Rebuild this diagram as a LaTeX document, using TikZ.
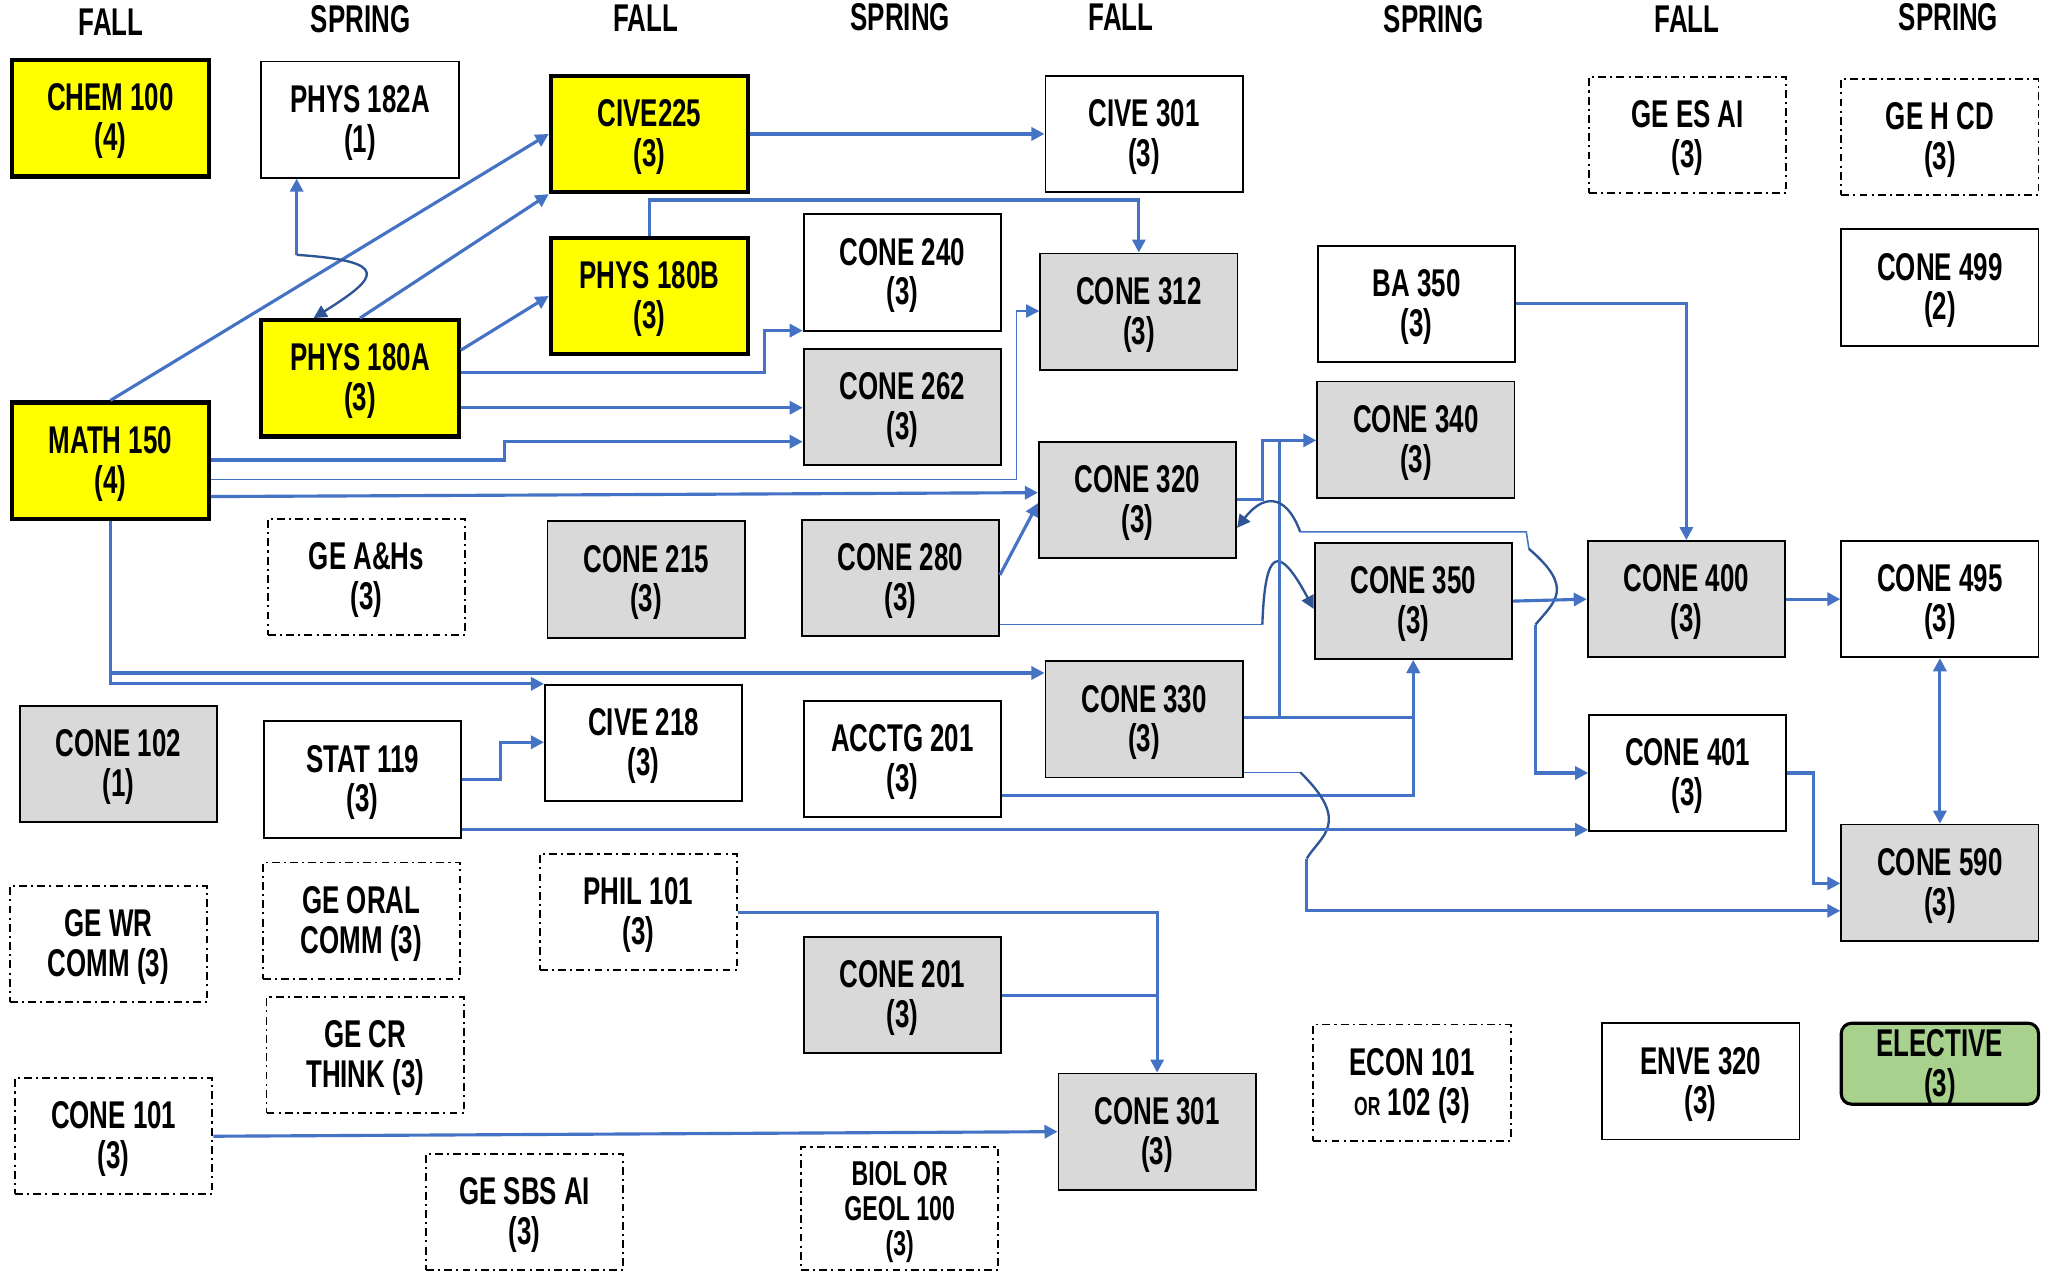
\documentclass[tikz,border=0pt]{standalone}
\usepackage{fontspec}
\setmainfont{Liberation Sans}[FakeStretch=0.67]
\usetikzlibrary{arrows.meta}
\definecolor{cyellow}{HTML}{FFFF00}
\definecolor{cgray}{HTML}{D9D9D9}
\definecolor{cgreen}{HTML}{A9D18E}
\definecolor{cblue}{HTML}{4472C4}
\definecolor{cdark}{HTML}{2F5597}
\newcommand{\crsfont}{\fontsize{14.8}{15}\selectfont\bfseries}
\newcommand{\cl}[1]{\raisebox{-1.8pt}[\height][\depth]{\begin{tabular}{@{}c@{}}#1\end{tabular}}}
\tikzset{
  crs/.style={draw=black, line width=0.7pt, minimum width=75.5pt, minimum height=44.5pt, inner sep=0pt, font=\crsfont},
  yel/.style={crs, fill=cyellow, line width=1.6pt},
  gry/.style={crs, fill=cgray},
  wht/.style={crs, fill=white},
  gebox/.style={crs, dash pattern=on 3pt off 1.6pt on 0.8pt off 1.6pt},
  elec/.style={crs, fill=cgreen, line width=1.2pt, rounded corners=4pt, minimum height=31pt},
  hdr/.style={font=\crsfont, inner sep=0pt},
  tip/.style={-{Triangle[length=5pt,width=5pt]}},
  conn/.style={draw=cblue, line width=1.2pt, tip},
  connthin/.style={draw=cblue, line width=0.6pt},
  conndark/.style={draw=cdark, line width=0.9pt},
  plain/.style={draw=cblue, line width=1.2pt},
}
\begin{document}
\begin{tikzpicture}[x=0.5pt,y=-0.5pt]
\fill[white] (0,0) rectangle (1568,974);
\useasboundingbox (0,0) rectangle (1568,974);
% headers
\node[hdr] (h1) at (85,17) {FALL};
\node[hdr] (h2) at (276,15) {SPRING};
\node[hdr] (h3) at (494,14) {FALL};
\node[hdr] (h4) at (689,13) {SPRING};
\node[hdr] (h5) at (858,13) {FALL};
\node[hdr] (h6) at (1097,15) {SPRING};
\node[hdr] (h7) at (1291,15) {FALL};
\node[hdr] (h8) at (1491,13) {SPRING};
% courses
\node[yel] (chem) at (84.5,90.5) {\cl{CHEM 100\\(4)}};
\node[wht] (phys182a) at (275.5,91.5) {\cl{PHYS 182A\\(1)}};
\node[yel] (cive225) at (497,102.5) {\cl{CIVE225\\(3)}};
\node[wht] (cive301) at (875.5,102.5) {\cl{CIVE 301\\(3)}};
\node[gebox] (gees) at (1291.5,103.5) {\cl{GE ES AI\\(3)}};
\node[gebox] (gehcd) at (1484.5,105) {\cl{GE H CD\\(3)}};
\node[yel] (phys180b) at (497,226.5) {\cl{PHYS 180B\\(3)}};
\node[wht] (cone240) at (690.5,208.5) {\cl{CONE 240\\(3)}};
\node[gry] (cone312) at (871.5,238.5) {\cl{CONE 312\\(3)}};
\node[wht] (ba350) at (1084,232.5) {\cl{BA 350\\(3)}};
\node[wht] (cone499) at (1484.5,220) {\cl{CONE 499\\(2)}};
\node[yel] (phys180a) at (275.5,289.5) {\cl{PHYS 180A\\(3)}};
\node[gry] (cone262) at (690.5,311.5) {\cl{CONE 262\\(3)}};
\node[gry] (cone340) at (1083.5,336.5) {\cl{CONE 340\\(3)}};
\node[yel] (math150) at (84.5,352.5) {\cl{MATH 150\\(4)}};
\node[gry] (cone320) at (870.5,382.5) {\cl{CONE 320\\(3)}};
\node[gebox] (geahs) at (280.5,441.5) {\cl{GE A\&Hs\\(3)}};
\node[gry] (cone215) at (494.5,443.5) {\cl{CONE 215\\(3)}};
\node[gry] (cone280) at (689,442.5) {\cl{CONE 280\\(3)}};
\node[gry] (cone350) at (1081.5,460) {\cl{CONE 350\\(3)}};
\node[gry] (cone400) at (1290.5,458.5) {\cl{CONE 400\\(3)}};
\node[wht] (cone495) at (1484.5,458.5) {\cl{CONE 495\\(3)}};
\node[gry] (cone330) at (875.5,550.5) {\cl{CONE 330\\(3)}};
\node[gry] (cone102) at (90.5,584.5) {\cl{CONE 102\\(1)}};
\node[wht] (stat119) at (277.5,596.5) {\cl{STAT 119\\(3)}};
\node[wht] (cive218) at (492.5,568.5) {\cl{CIVE 218\\(3)}};
\node[wht] (acctg201) at (690.5,581) {\cl{ACCTG 201\\(3)}};
\node[wht] (cone401) at (1291.5,591.5) {\cl{CONE 401\\(3)}};
\node[gry] (cone590) at (1484.5,675.5) {\cl{CONE 590\\(3)}};
\node[gebox] (gewr) at (83,722.5) {\cl{GE WR\\COMM (3)}};
\node[gebox] (georal) at (276.5,704.5) {\cl{GE ORAL\\COMM (3)}};
\node[gebox] (phil101) at (488.5,698) {\cl{PHIL 101\\(3)}};
\node[gry] (cone201) at (690.5,761.5) {\cl{CONE 201\\(3)}};
\node[gebox] (gecr) at (279.5,807.5) {\cl{GE CR\\THINK (3)}};
\node[gebox] (econ) at (1080.5,828.5) {\cl{ECON 101\\{\fontsize{10}{10}\selectfont OR} 102 (3)}};
\node[wht] (enve320) at (1301.5,827.5) {\cl{ENVE 320\\(3)}};
\node[elec] (elective) at (1484.5,814) {\cl{ELECTIVE\\(3)}};
\node[gry] (cone301) at (885.5,866) {\cl{CONE 301\\(3)}};
\node[gebox] (cone101) at (87,869.5) {\cl{CONE 101\\(3)}};
\node[gebox] (gesbs) at (401.5,927.5) {\cl{GE SBS AI\\(3)}};
\node[gebox, minimum height=47pt, font=\fontsize{13.2}{13.5}\selectfont\bfseries] (biol) at (688.5,925) {\cl{BIOL OR\\GEOL 100\\(3)}};
% connectors
\draw[conn] (cive225) -- (cive301);
\draw[conn] (phys180b.north) -- (phys180b.north |- 0,153) -| (cone312.north);
\draw[conn] (math150.north) -- (cive225.west);
\draw[conn] (phys180a.north) -- (cive225.south west);
\draw[conn] (phys180a.east |- 0,268) -- (phys180b.west);
\coordinate (k) at (227,195);
\draw[conn] (k) -- (phys182a.south -| k);
\draw[conndark, tip] (k) .. controls (300,200) and (290,212) .. (phys180a.north -| 240,0);
\draw[conn] (phys180a.east |- 0,285) -| (585,253) -- (cone240.west |- 0,253);
\draw[conn] (phys180a.east |- 0,312) -- (cone262.west |- 0,312);
\draw[conn] (math150.east |- 0,352) -| (386,338) -- (cone262.west |- 0,338);
\draw[connthin, tip] (math150.east |- 0,367) -| (778,238) -- (cone312.west |- 0,238);
\draw[conn] (math150.east |- 0,380) -- (cone320.west |- 0,377);
\draw[conn] (math150.south) |- (cive218.north west);
\draw[conn] (math150.south |- 0,515) -- (cone330.west |- 0,515);
\draw[conn] (cone280.east |- 0,440) -- (cone320.west |- 0,385);
\coordinate (h14) at (966,478);
\draw[connthin] (cone280.east |- 0,478) -- (h14);
\draw[conndark, tip] (h14) .. controls (968,420) and (978,415) .. (cone350.west |- 0,466);
\draw[conn] (cone320.east |- 0,382) -| (966,337) -- (cone340.west |- 0,337);
\draw[plain] (cone330.east |- 0,549) -| (979,337);
\draw[conn] (cone330.east |- 0,549) -| (cone350.south);
\draw[conn] (acctg201.east |- 0,609) -| (cone350.south);
\coordinate (h17a) at (995,591);
\coordinate (h17b) at (1000,657);
\draw[connthin] (cone330.east |- 0,591) -- (h17a);
\draw[conndark] (h17a) .. controls (1035,630) and (1010,640) .. (h17b);
\draw[conn] (h17b) |- (cone590.west |- 0,697);
\draw[conn] (stat119.east) -| (383,568) -- (cive218.west |- 0,568);
\draw[conn] (stat119.east |- 0,635) -- (cone401.west |- 0,635);
\coordinate (h20a) at (995,407);
\coordinate (h20b) at (1170,420);
\coordinate (h20c) at (1175,478);
\draw[conndark, {Triangle[length=5pt,width=5pt]}-] (cone320.east |- 0,404) .. controls (965,380) and (983,375) .. (h20a);
\draw[connthin] (h20a) -- (1168,407) -- (h20b);
\draw[conndark] (h20b) .. controls (1205,450) and (1190,460) .. (h20c);
\draw[conn] (h20c) |- (cone401.west);
\draw[conn] (cone350.east) -- (cone400.west);
\draw[conn] (ba350.east) -| (cone400.north);
\draw[conn] (cone400) -- (cone495);
\draw[conn, {Triangle[length=5pt,width=5pt]}-{Triangle[length=5pt,width=5pt]}] (cone495) -- (cone590);
\draw[conn] (cone401.east) -| (1388,676) -- (cone590.west |- 0,676);
\draw[conn] (phil101.east) -| (cone301.north);
\draw[plain] (cone201.east) -- (cone301.north |- cone201.east);
\draw[conn] (cone101.east) -- (cone301.west);
\end{tikzpicture}
\end{document}
